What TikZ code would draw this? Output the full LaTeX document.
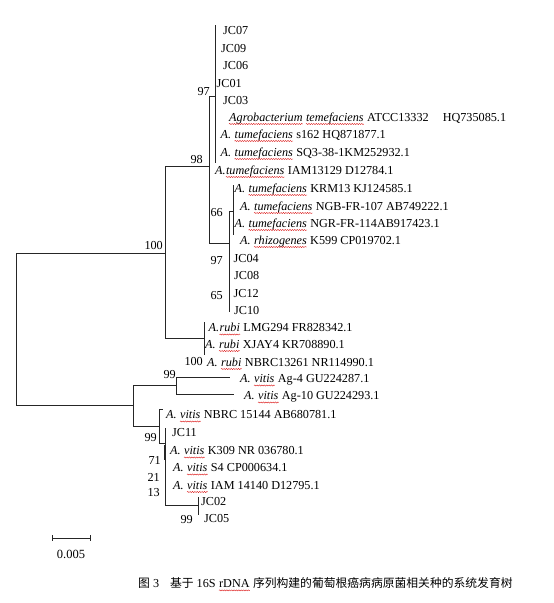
\documentclass[tikz,border=0pt]{standalone}
\usepackage{fontspec}
\setmainfont{Liberation Serif}
\newfontfamily\cjk{Noto Sans CJK SC}
\usetikzlibrary{decorations.pathmorphing}
\newcommand\tipfont{\fontsize{12.2}{14}\selectfont}
\newcommand\capc{\cjk\fontsize{11.8}{14}\selectfont}
\newcommand\capl{\rmfamily\fontsize{12.2}{14}\selectfont}
\tikzset{
 br/.style={line width=0.8pt, draw=black!85},
 thickbr/.style={line width=1.7pt, draw=black!85},
 tx/.style={anchor=base west, inner sep=0pt, font=\tipfont},
 bs/.style={anchor=base east, inner sep=0pt, font=\tipfont},
 wave/.style={red!85!black, line width=0.35pt, decorate, decoration={snake, amplitude=0.55pt, segment length=2.4pt}}
}
% name, position, prefix, gap after prefix, underlined word, rest
\newcommand\tipW[6]{%
 \node[tx] (#1) at (#2) {#3};
 \node[tx] (#1w) at ([xshift=#4]#1.base east) {#5};
 \node[tx] (#1r) at ([xshift=3.05pt]#1w.base east) {#6};
 \draw[wave] ([yshift=-2.8pt]#1w.base west) -- ([yshift=-2.8pt]#1w.base east);}
\begin{document}
\begin{tikzpicture}[x=1pt,y=-1pt]
\useasboundingbox (0,0) rectangle (554,603);
% ---- internal node coordinates
\coordinate (rt) at (16,253);   \coordinate (rb) at (16,405);
\coordinate (Um) at (165,253);  \coordinate (Ut) at (165,166);  \coordinate (Ub) at (165,338);
\coordinate (n98) at (209,166); \coordinate (n98t) at (209,96); \coordinate (n98b) at (209,243);
\coordinate (n97) at (215,96);  \coordinate (c1t) at (215,25);  \coordinate (c1b) at (215,163);
\coordinate (N) at (229,243);   \coordinate (Nt) at (229,211);  \coordinate (Nb) at (229,276);
\coordinate (n66) at (233,211); \coordinate (n66t) at (233,185); \coordinate (n66b) at (233,235);
\coordinate (jt) at (229,248);  \coordinate (jb) at (229,312);
\coordinate (Rm) at (204,338);  \coordinate (Rt) at (204,322);  \coordinate (Rb) at (204,355);
\coordinate (Lm) at (133,405);  \coordinate (Lt) at (133,385);  \coordinate (Lb) at (133,426);
\coordinate (Am) at (176,385);  \coordinate (At) at (176,377);  \coordinate (Ab) at (176,394);
\coordinate (Ag4e) at (230,377); \coordinate (Ag10e) at (234,394);
\coordinate (Vm) at (159,426);  \coordinate (Vt) at (159,409);  \coordinate (Vb) at (159,443);
\coordinate (Vs) at (163,409);
\coordinate (Wm) at (165,443);  \coordinate (Wt) at (165,428);  \coordinate (Wbot) at (165,505);
\coordinate (W1) at (165,445);  \coordinate (W2) at (165,460);
\coordinate (J2) at (198,505);  \coordinate (J2t) at (198,497); \coordinate (J2b) at (198,515);
% ---- branches
\draw[br] (Um) -- (rt) -- (rb) -- (Lm);
\draw[br] (Ut) -- (Ub);
\draw[br] (Ut) -- (n98);
\draw[br] (n98t) -- (n98b);
\draw[br] (n98t) -- (n97);
\draw[br] (c1t) -- (c1b);
\draw[br] (n98b) -- (N);
\draw[br] (Nt) -- (Nb);
\draw[br] (Nt) -- (n66);
\draw[br] (n66t) -- (n66b);
\draw[br] (jt) -- (jb);
\draw[br] (Ub) -- (Rm);
\draw[br] (Rt) -- (Rb);
\draw[br] (Lt) -- (Lb);
\draw[br] (Lt) -- (Am);
\draw[br] (At) -- (Ab);
\draw[br] (At) -- (Ag4e);
\draw[br] (Ab) -- (Ag10e);
\draw[br] (Lb) -- (Vm);
\draw[br] (Vt) -- (Vb);
\draw[br] (Vt) -- (Vs);
\draw[br] (Vb) -- (Wm);
\draw[br] (Wt) -- (Wbot);
\draw[thickbr] (W1) -- (W2);
\draw[br] (Wbot) -- (J2);
\draw[br] (J2t) -- (J2b);
% ---- tips
\node[tx] (jc07) at (223,34.2) {JC07};
\node[tx] (jc09) at (221,52.2) {JC09};
\node[tx] (jc06) at (223,69.7) {JC06};
\node[tx] (jc01) at (216.5,87.2) {JC01};
\node[tx] (jc03) at (223,104.2) {JC03};
\node[tx] (agro) at (229,121.2) {\textit{Agrobacterium}};
\node[tx] (agrow) at ([xshift=3.05pt]agro.base east) {\textit{temefaciens}};
\node[tx] (agror) at ([xshift=3.05pt]agrow.base east) {ATCC13332\hspace{14pt}HQ735085.1};
\draw[wave] ([yshift=-2.8pt]agro.base west) -- ([yshift=-2.8pt]agro.base east);
\draw[wave] ([yshift=-2.8pt]agrow.base west) -- ([yshift=-2.8pt]agrow.base east);
\tipW{s162}{220.5,138.2}{\textit{A.}}{3.05pt}{\textit{tumefaciens}}{s162 HQ871877.1}
\tipW{sq3}{220.5,156.2}{\textit{A.}}{3.05pt}{\textit{tumefaciens}}{SQ3-38-1KM252932.1}
\tipW{iam1}{215,174.2}{\textit{A.}}{0pt}{\textit{tumefaciens}}{IAM13129 D12784.1}
\tipW{krm}{234.5,192.2}{\textit{A.}}{3.05pt}{\textit{tumefaciens}}{KRM13 KJ124585.1}
\tipW{ngb}{240,210.2}{\textit{A.}}{3.05pt}{\textit{tumefaciens}}{NGB-FR-107 AB749222.1}
\tipW{ngr}{234.5,227.2}{\textit{A.}}{3.05pt}{\textit{tumefaciens}}{NGR-FR-114AB917423.1}
\tipW{rhi}{240,244.2}{\textit{A.}}{3.05pt}{\textit{rhizogenes}}{K599 CP019702.1}
\node[tx] (jc04) at (233.5,262.2) {JC04};
\node[tx] (jc08) at (234,279.7) {JC08};
\node[tx] (jc12) at (233.5,297.2) {JC12};
\node[tx] (jc10) at (234,314.2) {JC10};
\tipW{lmg}{208.5,331.7}{\textit{A.}}{0pt}{\textit{rubi}}{LMG294 FR828342.1}
\tipW{xjay}{205,348.2}{\textit{A.}}{3.05pt}{\textit{rubi}}{XJAY4 KR708890.1}
\tipW{nbrca}{207,366.2}{\textit{A.}}{3.05pt}{\textit{rubi}}{NBRC13261 NR114990.1}
\tipW{aga}{240,382.7}{\textit{A.}}{3.05pt}{\textit{vitis}}{Ag-4 GU224287.1}
\tipW{agb}{244,399.7}{\textit{A.}}{3.05pt}{\textit{vitis}}{Ag-10 GU224293.1}
\tipW{nbrcb}{166,418.7}{\textit{A.}}{3.05pt}{\textit{vitis}}{NBRC 15144 AB680781.1}
\node[tx] (jc11) at (172,436.7) {JC11};
\tipW{kaa}{170,454.7}{\textit{A.}}{3.05pt}{\textit{vitis}}{K309 NR 036780.1}
\tipW{sfour}{173,471.7}{\textit{A.}}{3.05pt}{\textit{vitis}}{S4 CP000634.1}
\tipW{iamb}{173,489.2}{\textit{A.}}{3.05pt}{\textit{vitis}}{IAM 14140 D12795.1}
\node[tx] (jc02) at (201,505.7) {JC02};
\node[tx] (jc05) at (204,522.7) {JC05};
% ---- bootstrap values
\node[bs] (b97a) at (210,95.2) {97};
\node[bs] (b98) at (203,163.2) {98};
\node[bs] (b66) at (223,216.2) {66};
\node[bs] (b97b) at (223,264.2) {97};
\node[bs] (b65) at (223,299.2) {65};
\node[bs] (b100a) at (163,249.2) {100};
\node[bs] (b100b) at (203,365.2) {100};
\node[bs] (b99a) at (176,378.2) {99};
\node[bs] (b99b) at (157,441.2) {99};
\node[bs] (b71) at (161,464.2) {71};
\node[bs] (b21) at (160,481.2) {21};
\node[bs] (b13) at (160,496.2) {13};
\node[bs] (b99c) at (193,523.2) {99};
% ---- scale bar
\coordinate (sbL) at (52,538); \coordinate (sbR) at (90,538);
\draw[br, line width=0.7pt] (sbL) -- (sbR);
\draw[br, line width=0.7pt] ([yshift=3pt]sbL) -- ([yshift=-3pt]sbL);
\draw[br, line width=0.7pt] ([yshift=3pt]sbR) -- ([yshift=-3pt]sbR);
\node[anchor=base, inner sep=0pt, font=\fontsize{12.5}{14}\selectfont] (sblab) at (71,558) {0.005};
% ---- caption
\node[anchor=base west, inner sep=0pt] (cap1) at (138,587.6)
  {{\capc 图}\hspace{3pt}{\capl 3}\hspace{11pt}{\capc 基于}\hspace{3pt}{\capl 16S}};
\node[anchor=base west, inner sep=0pt] (cap2) at ([xshift=3.05pt]cap1.base east) {\capl rDNA};
\node[anchor=base west, inner sep=0pt] (cap3) at ([xshift=3pt]cap2.base east)
  {\capc 序列构建的葡萄根癌病病原菌相关种的系统发育树};
\draw[wave] ([yshift=-2.8pt]cap2.base west) -- ([yshift=-2.8pt]cap2.base east);
\end{tikzpicture}
\end{document}
